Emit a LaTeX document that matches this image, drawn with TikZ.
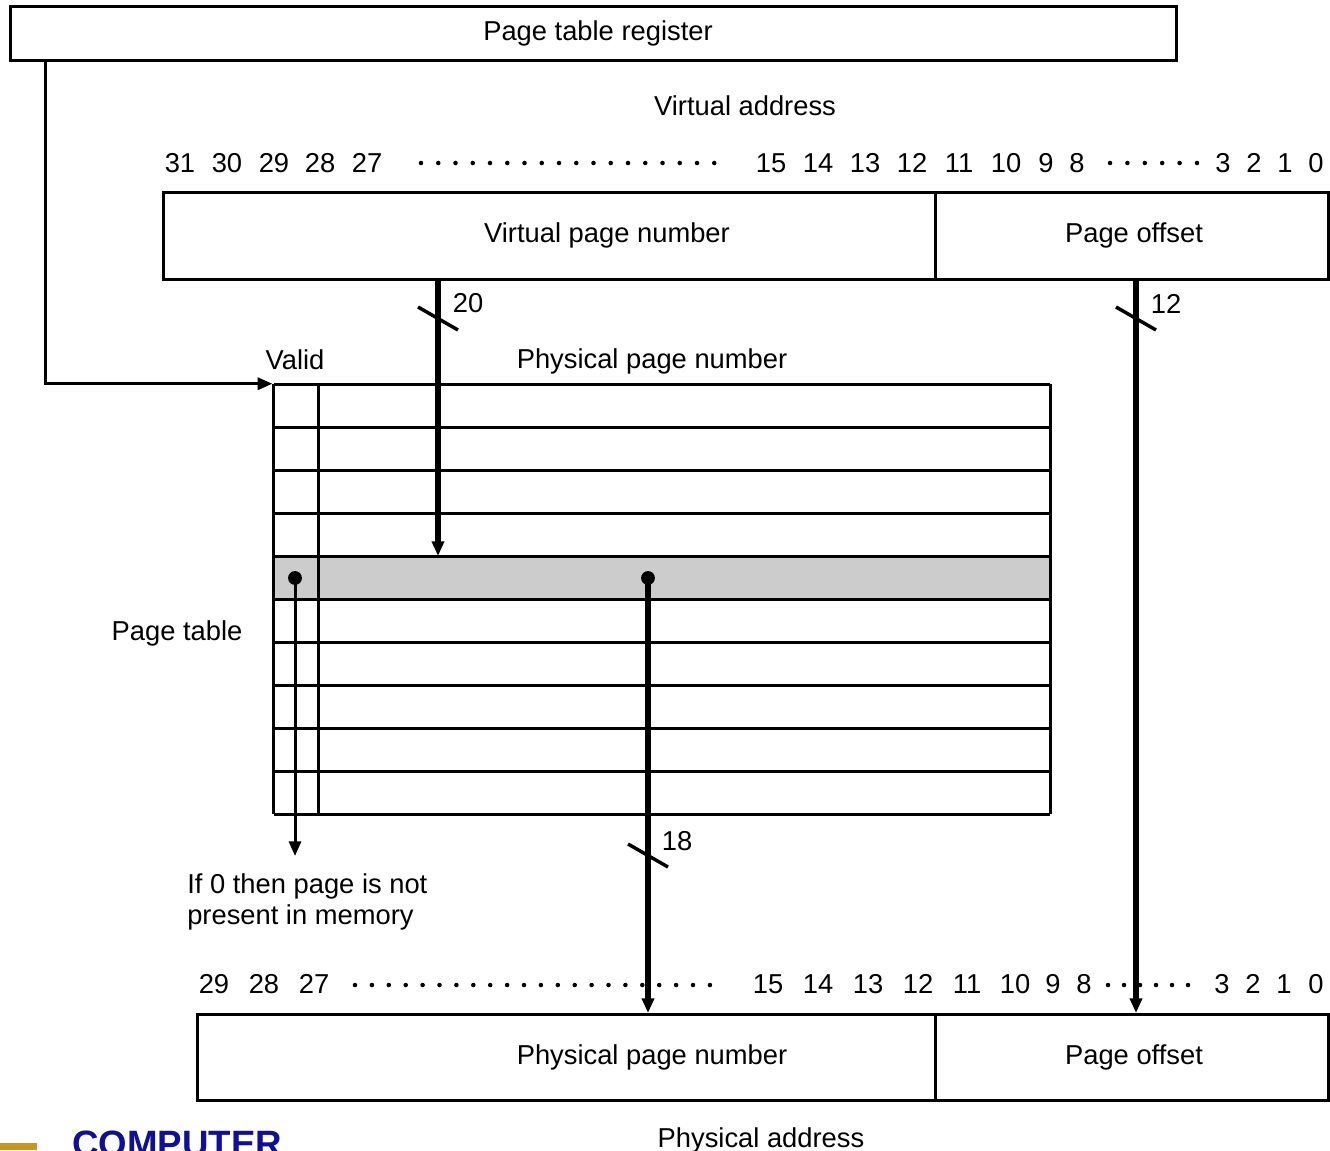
\documentclass[tikz,border=0pt]{standalone}
\usepackage{fontspec}
\setmainfont{Liberation Sans}
\usetikzlibrary{arrows.meta}
\definecolor{logoblue}{RGB}{16,16,150}
\definecolor{logogold}{RGB}{200,150,30}
\begin{document}
\begin{tikzpicture}[x=0.75pt,y=-0.75pt,
  box/.style={draw, line width=2.25pt, inner sep=0pt},
  grid/.style={line width=2.25pt},
  bus/.style={line width=4.5pt, -{Triangle[length=11pt,width=9pt]}},
  wire/.style={line width=2.25pt, -{Triangle[length=11pt,width=9pt]}},
  slash/.style={line width=2.6pt},
  lbl/.style={font=\fontsize{20.5}{24}\selectfont, inner sep=0pt,
              text height=14.7pt, text depth=0pt},
  dot/.style={fill=black},
]
\useasboundingbox (0,0) rectangle (1330,1150);
\clip (0,0) rectangle (1330,1150);

% ---- page table register ----
\node[box, minimum width=874.5pt, minimum height=40.5pt] (reg) at (593,33) {};
\node[lbl] (regtxt) at (598,31) {Page table register};

% ---- virtual address ----
\node[lbl] (vatxt) at (745,106) {Virtual address};
\foreach \x/\t [count=\k] in {180/31,227/30,274/29,320/28,367/27,771/15,818/14,865/13,
    912/12,959/11,1006/10,1046/9,1077/8,1223/3,1254/2,1285/1,1316/0}
  \node[lbl] (vbit\k) at (\x,163) {\t};
\foreach \i in {0,...,17} \fill (421+17.25*\i,163) circle[radius=1.7pt];
\foreach \i in {0,...,5} \fill (1110+17.4*\i,163) circle[radius=1.7pt];

\node[box, minimum width=579pt, minimum height=65.25pt] (vpn) at (549,235.5) {};
\node[box, minimum width=295.1pt, minimum height=65.25pt] (voff) at (1131.75,235.5) {};
\node[lbl] (vpntxt) at (607,233) {Virtual page number};
\node[lbl] (vofftxt) at (1134,233) {Page offset};

% ---- page table ----
\node[inner sep=0pt, minimum width=582pt, minimum height=322.5pt] (ptab) at (662,599) {};
\fill[black!20] (274,556) rectangle (1050,599);
\foreach \i in {0,...,10} \draw[grid] (274,384+43*\i) -- (1050,384+43*\i);
\draw[grid] (ptab.north west) -- (ptab.south west);
\draw[grid] (ptab.north east) -- (ptab.south east);
\draw[grid] (318,384) -- (318,814);

\node[lbl] (validtxt) at (295,360) {Valid};
\node[lbl] (ppnhead) at (652,359) {Physical page number};
\node[lbl] (ptabtxt) at (177,631) {Page table};

% ---- physical address ----
\foreach \x/\t [count=\k] in {214/29,264/28,314/27,768/15,818/14,868/13,918/12,967/11,
    1015/10,1053/9,1084/8,1222/3,1253/2,1284/1,1316/0}
  \node[lbl] (pbit\k) at (\x,984) {\t};
\foreach \i in {0,...,21} \fill (355+16.9*\i,985) circle[radius=1.7pt];
\foreach \i in {0,...,5} \fill (1108+16*\i,985) circle[radius=1.7pt];

\node[box, minimum width=553.5pt, minimum height=64.5pt] (ppn) at (566,1057) {};
\node[box, minimum width=295.1pt, minimum height=64.5pt] (poff) at (1131.75,1057) {};
\node[lbl] (ppntxt) at (652,1055) {Physical page number};
\node[lbl] (pofftxt) at (1134,1055) {Page offset};
\node[lbl] (patxt) at (761,1138) {Physical address};

% ---- connectors ----
\coordinate (regtap) at (45,60);
\draw[wire, shorten >=1pt] (regtap) |- (ptab.north west);

\coordinate (vpntap) at (438,279);
\coordinate (vpnhit) at (438,556);
\draw[bus] (vpntap) -- (vpnhit);
\draw[slash] (418,307) -- (458,330);
\node[lbl] (w20) at (468,303) {20};

\coordinate (offtap) at (1136,279);
\coordinate (offhit) at (1136,1013);
\draw[bus] (offtap) -- (offhit);
\draw[slash] (1116,307) -- (1156,330);
\node[lbl] (w12) at (1166,304) {12};

\coordinate (ppntap) at (648,578);
\coordinate (ppnhit) at (648,1013);
\fill (ppntap) circle[radius=5.2pt];
\draw[bus] (ppntap) -- (ppnhit);
\draw[slash] (628,844) -- (668,867);
\node[lbl] (w18) at (677,841) {18};

\coordinate (validtap) at (295,578);
\coordinate (validend) at (295,856);
\fill (validtap) circle[radius=5.2pt];
\draw[wire] (validtap) -- (validend);

\node[lbl, anchor=west] (miss1) at (187,884) {If 0 then page is not};
\node[lbl, anchor=west] (miss2) at (187,915) {present in memory};

% ---- footer ----
\fill[logogold] (0,1143) rectangle (37,1150);
\node[font=\bfseries\fontsize{27.5}{30}\selectfont, text=logoblue, inner sep=0pt,
      text height=19.7pt, text depth=0pt, anchor=west] (logo) at (72,1143) {COMPUTER};
\end{tikzpicture}
\end{document}
